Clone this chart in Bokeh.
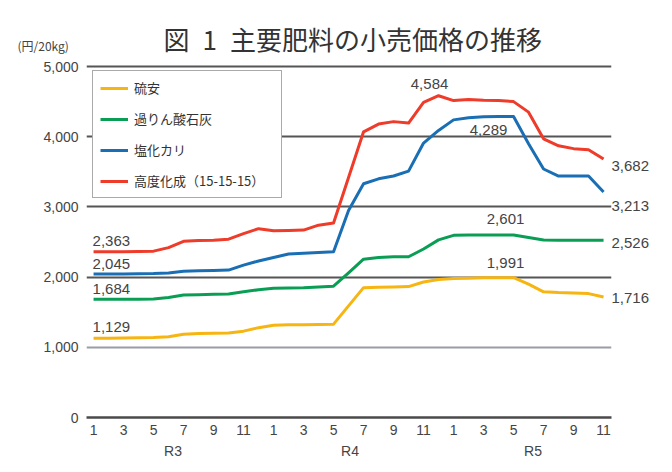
from bokeh.plotting import figure
from bokeh.models import (Range1d, FixedTicker, NumeralTickFormatter, Legend, LegendItem,
                          Label, LinearAxis, Grid, Title)
from bokeh.embed import file_html
from bokeh.resources import INLINE

# ---- data ----
months = list(range(35))  # R3.1 ... R5.11
month_ticks = list(range(0, 35, 2))
month_tick_labels = ["1", "3", "5", "7", "9", "11"] * 3
era_labels = ["R3", "R4", "R5"]
era_pos = [5.3, 17.1, 29.3]

ryuan = [1129, 1129, 1132, 1135, 1138, 1150, 1185, 1195, 1200, 1205, 1230, 1280,
         1315, 1320, 1322, 1325, 1330, 1590, 1850, 1855, 1860, 1865, 1930, 1965,
         1980, 1985, 1990, 1991, 1991, 1900, 1790, 1780, 1775, 1765, 1716]
karinsan = [1684, 1684, 1684, 1686, 1688, 1710, 1745, 1750, 1755, 1760, 1790, 1820,
            1840, 1845, 1850, 1860, 1870, 2060, 2255, 2280, 2290, 2290, 2400, 2530,
            2595, 2601, 2601, 2601, 2601, 2565, 2530, 2526, 2526, 2526, 2526]
enka = [2045, 2045, 2045, 2047, 2050, 2060, 2085, 2090, 2095, 2100, 2170, 2230,
        2280, 2330, 2340, 2350, 2360, 2950, 3330, 3400, 3440, 3510, 3910, 4090,
        4240, 4270, 4285, 4289, 4289, 3900, 3540, 3440, 3440, 3440, 3213]
kodo = [2363, 2363, 2363, 2365, 2370, 2420, 2510, 2520, 2525, 2540, 2620, 2690,
        2660, 2665, 2670, 2740, 2770, 3420, 4070, 4180, 4215, 4195, 4490, 4584,
        4515, 4530, 4520, 4515, 4500, 4350, 3970, 3870, 3830, 3815, 3682]

series_names = ["硫安", "過りん酸石灰", "塩化カリ", "高度化成（15-15-15）"]
series_values = [ryuan, karinsan, enka, kodo]
series_colors = ["#f7b512", "#0a9e55", "#1a6fb4", "#ee3b2a"]

y_ticks = [0, 1000, 2000, 3000, 4000, 5000]

# ---- figure ----
W, H = 672, 472
Y0, Y1 = 0, 5100
MB_TOP, MB_BOTTOM = 59, 55
p = figure(width=W, height=H, output_backend="svg", toolbar_location=None,
           title=None,
           x_range=Range1d(-0.47, 34.53), y_range=Range1d(Y0, Y1),
           min_border_left=86, min_border_right=61, min_border_top=MB_TOP,
           min_border_bottom=MB_BOTTOM)
p.outline_line_color = None
p.background_fill_color = "white"
p.border_fill_color = "white"
px_per_unit = (H - MB_TOP - MB_BOTTOM) / (Y1 - Y0)

# grids
p.xgrid.visible = False
p.ygrid.ticker = FixedTicker(ticks=y_ticks[2:])
p.ygrid.grid_line_color = "#555555"
p.ygrid.grid_line_width = 2
g1 = Grid(dimension=1, ticker=FixedTicker(ticks=[y_ticks[1]]),
          grid_line_color="#9a9ca6", grid_line_width=2)
p.add_layout(g1, "center")

def style_axis(ax, size="14px", standoff=0):
    ax.axis_line_color = None
    ax.major_tick_line_color = None
    ax.minor_tick_line_color = None
    ax.major_tick_out = 0
    ax.minor_tick_out = 0
    ax.major_tick_in = 0
    ax.minor_tick_in = 0
    ax.major_label_standoff = standoff
    ax.major_label_text_font = "Liberation Sans"
    ax.major_label_text_font_size = size
    ax.major_label_text_color = "#444444"

# y axis
ya = p.yaxis[0]
style_axis(ya, standoff=8)
ya.ticker = FixedTicker(ticks=y_ticks)
ya.formatter = NumeralTickFormatter(format="0,0")

# x axis (months)
xa = p.xaxis[0]
style_axis(xa, standoff=7)
xa.ticker = FixedTicker(ticks=month_ticks)
xa.major_label_overrides = {t: l for t, l in zip(month_ticks, month_tick_labels)}
xa.axis_line_color = "#4a4a4a"
xa.axis_line_width = 2.5

# era axis
ea = LinearAxis(ticker=FixedTicker(ticks=era_pos),
                major_label_overrides={t: l for t, l in zip(era_pos, era_labels)})
style_axis(ea, standoff=5)
p.add_layout(ea, "below")

# lines
items = []
for name, vals, col in zip(series_names, series_values, series_colors):
    r = p.line(months, vals, line_color=col, line_width=3, line_join="round")
    items.append(LegendItem(label=name, renderers=[r]))

legend = Legend(items=items, location=(6, 219), orientation="vertical",
                padding=7, spacing=12, glyph_width=28, glyph_height=16,
                label_height=16, label_width=140, label_standoff=6, margin=0,
                border_line_color="#555555", border_line_width=1.5,
                background_fill_color="white", background_fill_alpha=1.0,
                label_text_font="Noto Sans CJK JP", label_text_font_size="13px",
                label_text_color="#333333")
p.add_layout(legend, "center")

# data labels inside the plot: (series index, month index, align, x_offset, y_offset)
label_specs = [
    (3, 0, "left", -1, 11), (2, 0, "left", -1, 10), (1, 0, "left", -1, 10), (0, 0, "left", -1, 11),
    (3, 23, "center", -9, 12), (2, 27, "center", -10, -14),
    (1, 27, "center", 7, 16), (0, 27, "center", 7, 15),
]
for si, mi, al, dx, dy in label_specs:
    v = series_values[si][mi]
    p.add_layout(Label(x=months[mi], y=v, x_offset=dx, y_offset=dy, text=f"{v:,}",
                       text_align=al, text_baseline="middle",
                       text_font="Liberation Sans", text_font_size="15px",
                       text_color="#444444"))

# end-of-series labels on a right-hand axis (shifted by a few pixels)
end_shift_px = [-1, -3, -14, -7]
end_vals = [vals[-1] for vals in series_values]
end_pos = [round(v + d / px_per_unit) for v, d in zip(end_vals, end_shift_px)]
ra = LinearAxis(ticker=FixedTicker(ticks=end_pos),
                major_label_overrides={t: f"{v:,}" for t, v in zip(end_pos, end_vals)})
style_axis(ra, size="15px", standoff=0)
p.add_layout(ra, "right")

# titles
unit_title = Title(text="(円/20kg)", align="left", offset=-69, standoff=12,
                   text_font="Noto Sans CJK JP", text_font_size="12px",
                   text_font_style="normal", text_color="#444444")
p.add_layout(unit_title, "above")
main_title = Title(text="図\u20021\u2002主要肥料の小売価格の推移", align="left", offset=77,
                   standoff=-56, text_font="Noto Sans CJK JP", text_font_size="26px",
                   text_font_style="normal", text_color="#333333")
p.add_layout(main_title, "above")

open("out.html", "w").write(file_html(p, INLINE))
